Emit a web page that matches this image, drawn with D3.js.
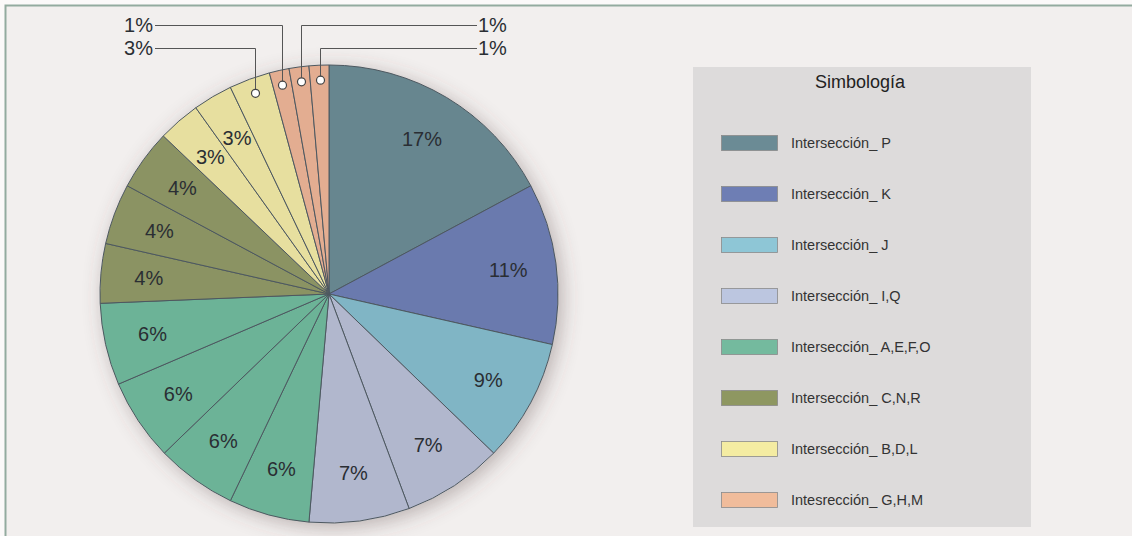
<!DOCTYPE html>
<html>
  <head>
    <meta charset="utf-8">
    <title>Simbología pie</title>
    <script src="https://cdn.jsdelivr.net/npm/d3@7"></script>
    <style type="text/css">
      body {
        margin: 0;
        background: #fbf9f9;
        overflow: hidden;
      }
      text {
        font-family: "Liberation Sans", Arial, Helvetica, sans-serif;
      }
      .slice {
        stroke: #4d5860;
        stroke-width: 1px;
      }
      .pct {
        font-size: 20px;
        fill: #2a2e33;
      }
      .leader {
        fill: none;
        stroke: #555;
        stroke-width: 1px;
      }
    </style>
  </head>
<body>
  <div id="chart"></div>
  <script type="text/javascript">
    var width = 1132, height = 536;

    // slices, clockwise from 12 o'clock
    var slices = ["P", "K", "J", "I", "Q", "A", "E", "F", "O", "C", "N", "R", "B", "D", "L", "G", "H", "M"];
    var values = [17.2, 11.4, 8.7, 7.1, 7.1, 5.7, 5.7, 5.8, 5.8, 4.2, 4.3, 4.3, 3.0, 2.8, 2.9, 1.4, 1.4, 1.4];
    var sliceGroup = [0, 1, 2, 3, 3, 4, 4, 4, 4, 5, 5, 5, 6, 6, 6, 7, 7, 7];

    var groups = ["Intersección_ P", "Intersección_ K", "Intersección_ J", "Intersección_ I,Q",
      "Intersección_ A,E,F,O", "Intersección_ C,N,R", "Intersección_ B,D,L", "Intesrección_ G,H,M"];
    var pieColors = ["#67868f", "#6a7aae", "#80b5c5", "#b1b7cd", "#6cb397", "#8b9363", "#e7df9f", "#e3ad91"];
    var legendColors = ["#6b8b95", "#6e7eb4", "#8ec6d6", "#bcc6e0", "#74ba9e", "#8e9761", "#f4eca2", "#f0bc9b"];

    // slices labelled outside with a leader line
    var callouts = {
      G: { side: -1, row: 0 },
      L: { side: -1, row: 1 },
      H: { side: 1, row: 0 },
      M: { side: 1, row: 1 }
    };

    var data = slices.map(function (s, i) {
      return { name: s, value: values[i], group: groups[sliceGroup[i]] };
    });

    var pieColor = d3.scaleOrdinal().domain(groups).range(pieColors);
    var legendColor = d3.scaleOrdinal().domain(groups).range(legendColors);

    var svg = d3.select("#chart").append("svg")
      .attr("width", width)
      .attr("height", height);

    var defs = svg.append("defs");
    var shadow = defs.append("filter")
      .attr("id", "shadow")
      .attr("x", "-20%").attr("y", "-20%")
      .attr("width", "140%").attr("height", "140%");
    shadow.append("feDropShadow")
      .attr("dx", 4).attr("dy", 4)
      .attr("stdDeviation", 10)
      .attr("flood-color", "#5a4a4a")
      .attr("flood-opacity", 0.38);

    // panel background + frame
    svg.append("rect")
      .attr("x", 5).attr("y", 5)
      .attr("width", width - 5).attr("height", height - 5)
      .attr("fill", "#f2efee");
    svg.append("path")
      .attr("d", "M5.5," + height + "V5.5H" + width)
      .attr("fill", "none")
      .attr("stroke", "#93ab9f")
      .attr("stroke-width", 2);

    var cx = 329, cy = 294, radius = 229;

    var pie = d3.pie().sort(null).value(function (d) { return d.value; });
    var arcs = pie(data);
    var arc = d3.arc().innerRadius(0).outerRadius(radius);
    var labelArc = d3.arc().innerRadius(181).outerRadius(181);
    var dotArc = d3.arc().innerRadius(214).outerRadius(214);

    var pieG = svg.append("g").attr("transform", "translate(" + cx + "," + cy + ")");

    pieG.append("circle")
      .attr("r", radius)
      .attr("fill", "#f2efee")
      .style("filter", "url(#shadow)");

    pieG.selectAll("path.slice")
      .data(arcs)
      .enter()
      .append("path")
      .attr("class", "slice")
      .attr("d", arc)
      .attr("fill", function (d) { return pieColor(d.data.group); });

    pieG.selectAll("text.pct")
      .data(arcs.filter(function (d) { return !callouts[d.data.name]; }))
      .enter()
      .append("text")
      .attr("class", "pct")
      .attr("text-anchor", "middle")
      .attr("dy", "0.35em")
      .attr("transform", function (d) { return "translate(" + labelArc.centroid(d) + ")"; })
      .text(function (d) { return Math.round(d.data.value) + "%"; });

    // outside labels for the thin slices
    var rowY = [25, 48];
    var leftEnd = 155 - cx, rightEnd = 477 - cx;
    var outer = arcs.filter(function (d) { return callouts[d.data.name]; });

    pieG.selectAll("path.leader")
      .data(outer)
      .enter()
      .append("path")
      .attr("class", "leader")
      .attr("d", function (d) {
        var c = callouts[d.data.name];
        var p = dotArc.centroid(d);
        var y = rowY[c.row] - cy;
        var x = Math.round(p[0]) + 0.5;
        var end = c.side < 0 ? leftEnd : rightEnd;
        return "M" + x + "," + p[1] + "V" + (y + 0.5) + "H" + end;
      });

    pieG.selectAll("circle.dot")
      .data(outer)
      .enter()
      .append("circle")
      .attr("class", "dot")
      .attr("cx", function (d) { return Math.round(dotArc.centroid(d)[0]) + 0.5; })
      .attr("cy", function (d) { return dotArc.centroid(d)[1]; })
      .attr("r", 4)
      .attr("fill", "#fff")
      .attr("stroke", "#444")
      .attr("stroke-width", 1.2);

    pieG.selectAll("text.out")
      .data(outer)
      .enter()
      .append("text")
      .attr("class", "pct out")
      .attr("text-anchor", function (d) { return callouts[d.data.name].side < 0 ? "end" : "start"; })
      .attr("x", function (d) { return callouts[d.data.name].side < 0 ? leftEnd - 2 : rightEnd + 1; })
      .attr("y", function (d) { return rowY[callouts[d.data.name].row] - cy; })
      .attr("dy", "0.35em")
      .text(function (d) { return Math.round(d.data.value) + "%"; });

    // legend
    var legend = svg.append("g").attr("transform", "translate(693,67)");
    legend.append("rect")
      .attr("width", 338)
      .attr("height", 460)
      .attr("fill", "#dddbdb");
    legend.append("text")
      .attr("x", 167)
      .attr("y", 21)
      .attr("text-anchor", "middle")
      .attr("font-size", 18)
      .attr("fill", "#222")
      .text("Simbología");

    var rowScale = d3.scalePoint().domain(groups).range([76, 433]);

    var items = legend.selectAll("g.item")
      .data(groups)
      .enter()
      .append("g")
      .attr("class", "item")
      .attr("transform", function (d) { return "translate(0," + rowScale(d) + ")"; });

    items.append("rect")
      .attr("x", 28.5)
      .attr("y", -7.5)
      .attr("width", 56)
      .attr("height", 15)
      .attr("fill", function (d) { return legendColor(d); })
      .attr("stroke", "#8a8a8a")
      .attr("stroke-width", 0.8);

    items.append("text")
      .attr("x", 98)
      .attr("dy", "0.35em")
      .attr("font-size", 14.5)
      .attr("fill", "#333")
      .text(function (d) { return d; });
  </script>
</body>
</html>
